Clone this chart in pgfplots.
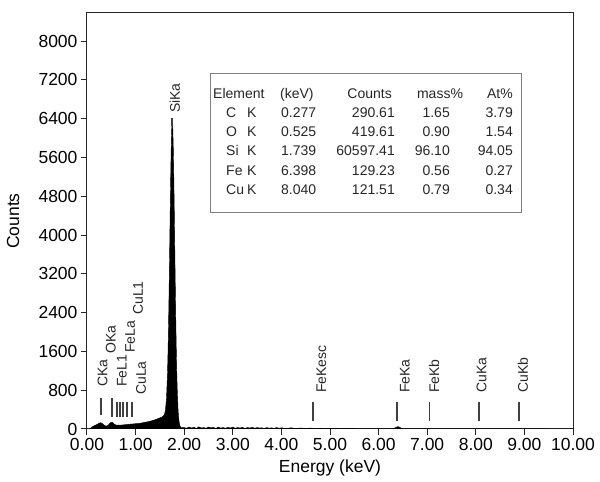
\documentclass[border=0pt]{standalone}
\usepackage{fontspec}
\setmainfont{Liberation Sans}
\usepackage{pgfplots}
\pgfplotsset{compat=1.18}

\newcommand\tk{\fontsize{17.5}{20}\selectfont}
\newcommand\pk{\fontsize{14}{16}\selectfont}

\begin{document}
\begin{tikzpicture}
\begin{axis}[
  scale only axis, width=486pt, height=416pt,
  xmin=0, xmax=10, ymin=0, ymax=8580,
  xtick={0,1,...,10}, ytick={0,800,...,8000},
  xtick pos=bottom, ytick pos=left,
  tick align=outside, major tick length=6pt,
  tick style={line width=1pt, black!85},
  axis line style={line width=1pt, black!85},
  /pgf/number format/assume math mode=true,
  tick label style={font=\tk},
  yticklabel style={/pgf/number format/.cd, fixed, 1000 sep={}},
  xticklabel style={/pgf/number format/.cd, fixed, fixed zerofill, precision=2},
  xlabel={Energy (keV)}, ylabel={Counts},
  label style={font=\tk},
  xlabel style={at={(axis description cs:0.5,-0.094)}, anchor=center},
  ylabel style={at={(axis description cs:-0.152,0.5)}, anchor=center},
]
% spectrum
\addplot[fill=black, draw=black, line width=0.4pt] coordinates {
(0.06,0)(0.10,40)(0.15,70)(0.20,90)(0.25,120)(0.28,130)(0.32,110)(0.36,70)
(0.40,60)(0.44,80)(0.48,130)(0.52,140)(0.56,100)(0.60,80)(0.70,80)(0.80,90)
(0.90,100)(1.00,110)(1.10,120)(1.20,140)(1.30,160)(1.40,190)(1.50,230)(1.55,250)
(1.595,300)(1.615,400)(1.635,620)(1.655,1100)(1.665,1490)(1.675,1980)(1.685,2580)
(1.695,3260)(1.705,3990)(1.715,4720)(1.725,5380)(1.735,5910)(1.745,6250)(1.755,6300)
(1.765,6200)(1.775,5830)(1.785,5270)(1.795,4580)(1.805,3820)(1.815,3070)(1.825,2370)
(1.835,1760)(1.845,1260)(1.855,870)(1.875,370)(1.895,144)(1.915,57)(1.94,25)
(2.00,30)(2.05,15)(2.10,40)(2.15,20)(2.20,35)(2.25,10)(2.30,45)(2.35,20)(2.40,30)
(2.45,15)(2.50,40)(2.55,25)(2.60,35)(2.65,10)(2.70,40)(2.75,20)(2.80,30)(2.85,15)
(2.90,35)(2.95,20)(3.00,40)(3.05,15)(3.10,30)(3.15,20)(3.20,35)(3.25,10)(3.30,30)
(3.35,20)(3.40,35)(3.45,15)(3.50,30)(3.55,20)(3.60,25)(3.65,10)(3.70,30)(3.75,15)
(3.80,25)(3.85,10)(3.90,30)(3.95,15)(4.00,25)(4.10,10)(4.20,25)(4.30,10)(4.40,20)
(4.50,10)(4.60,20)(4.70,5)(4.80,15)(4.90,5)(5.00,12)(5.20,5)(5.40,10)(5.60,3)
(5.80,5)(6.00,3)(6.30,5)(6.35,30)(6.40,50)(6.45,25)(6.50,3)(7.00,5)(7.05,12)
(7.10,3)(8.00,3)(8.05,10)(8.10,3)(9.00,2)(10.00,0)
} \closedcycle;
% peak markers
\begin{scope}[line width=1.7pt, black!75]
\draw (axis cs:0.29,289) -- (axis cs:0.29,639);
\draw (axis cs:0.51,247) -- (axis cs:0.51,639);
\draw (axis cs:0.615,247) -- (axis cs:0.615,557);
\draw (axis cs:0.68,247) -- (axis cs:0.68,557);
\draw (axis cs:0.745,247) -- (axis cs:0.745,557);
\draw (axis cs:0.83,247) -- (axis cs:0.83,557);
\draw (axis cs:0.93,247) -- (axis cs:0.93,557);
\draw (axis cs:1.755,6250) -- (axis cs:1.755,6420);
\draw (axis cs:4.65,165) -- (axis cs:4.65,557);
\draw (axis cs:6.38,165) -- (axis cs:6.38,557);
\draw (axis cs:7.05,165) -- (axis cs:7.05,557);
\draw (axis cs:8.06,165) -- (axis cs:8.06,557);
\draw (axis cs:8.89,165) -- (axis cs:8.89,557);
\end{scope}
\begin{scope}[every node/.style={rotate=90, anchor=west, inner sep=0, font=\pk, text=black!85}]
\node at (axis cs:0.32,866) {CKa};
\node at (axis cs:0.49,1546) {OKa};
\node at (axis cs:0.72,866) {FeL1};
\node at (axis cs:0.885,1567) {FeLa};
\node at (axis cs:1.11,701) {CuLa};
\node at (axis cs:1.05,2351) {CuL1};
\node at (axis cs:1.81,6516) {SiKa};
\node at (axis cs:4.825,742) {FeKesc};
\node at (axis cs:6.54,742) {FeKa};
\node at (axis cs:7.14,742) {FeKb};
\node at (axis cs:8.12,742) {CuKa};
\node at (axis cs:8.97,742) {CuKb};
\end{scope}
\end{axis}
% result table, in reference pixel units from the top left corner
\begin{scope}[shift={(current axis.south west)}, xshift=-87pt, yshift=429pt,
  x=1pt, y=-1pt, every node/.style={inner sep=0, font=\pk, text=black!85}]
\draw[black!50, line width=0.8pt] (210,73) rectangle (521,212);
\node[anchor=mid west] at (213,96) {Element};
\node[anchor=mid west] at (280,96) {(keV)};
\node[anchor=mid east] at (392,96) {Counts};
\node[anchor=mid] at (440,96) {mass\%};
\node[anchor=mid east] at (513,96) {At\%};
\foreach \y/\el/\kev/\cnt/\ms/\at in {
  114.5/C/0.277/290.61/1.65/3.79,
  133.5/O/0.525/419.61/0.90/1.54,
  153/Si/1.739/60597.41/96.10/94.05,
  172.5/Fe/6.398/129.23/0.56/0.27,
  192/Cu/8.040/121.51/0.79/0.34} {
  \node[anchor=mid west] at (226,\y) {\el};
  \node[anchor=mid west] at (247,\y) {K};
  \node[anchor=mid west] at (281,\y) {\kev};
  \node[anchor=mid east] at (395,\y) {\cnt};
  \node[anchor=mid east] at (450,\y) {\ms};
  \node[anchor=mid east] at (513,\y) {\at};
}
\end{scope}
\pgfresetboundingbox
\path ([xshift=-87pt,yshift=13pt]current axis.north west)
  rectangle ([xshift=27pt,yshift=-53pt]current axis.south east);
\end{tikzpicture}
\end{document}
